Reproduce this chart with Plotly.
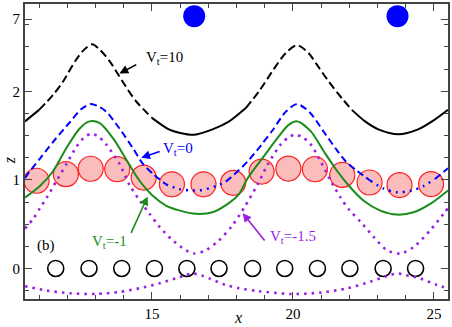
import plotly.graph_objects as go

# ---------------- data ----------------
x_vt10 = [10.5, 11.0, 11.5, 11.85, 12.3, 12.6, 12.88, 13.15, 13.5, 13.96, 14.43, 15.0, 15.6, 16.0, 16.5,
          17.15, 17.74, 18.33, 18.8, 19.26, 19.74, 20.15, 20.56, 20.85, 21.27, 21.74, 22.09, 22.56, 23.03,
          23.74, 24.44, 25.03, 25.5]
z_vt10 = [1.66, 1.79, 1.96, 2.11, 2.35, 2.47, 2.53, 2.47, 2.34, 2.11, 1.89, 1.70, 1.57, 1.53, 1.51,
          1.57, 1.66, 1.81, 2.0, 2.22, 2.43, 2.52, 2.43, 2.30, 2.11, 1.92, 1.79, 1.66, 1.57,
          1.515, 1.57, 1.68, 1.79]

x_vt0 = [10.5, 10.68, 11.03, 11.5, 12.09, 12.5, 12.82, 13.1, 13.38, 13.85, 14.32, 14.68, 15.03, 15.5,
         15.97, 16.68, 17.27, 17.62, 17.92, 18.4, 18.87, 19.28, 19.75, 20.15, 20.6, 21.1, 21.57, 21.87,
         22.28, 22.75, 23.22, 23.69, 24.22, 24.63, 25.04, 25.5]
z_vt0 = [1.02, 1.10, 1.24, 1.43, 1.65, 1.80, 1.855, 1.83, 1.77, 1.58, 1.36, 1.18, 1.07, 0.95,
         0.895, 0.88, 0.93, 0.98, 1.06, 1.21, 1.39, 1.56, 1.77, 1.855, 1.76, 1.54, 1.33, 1.21,
         1.10, 0.99, 0.90, 0.86, 0.88, 0.93, 1.01, 1.13]

x_vtm1 = [10.5, 11.03, 11.5, 11.97, 12.44, 12.79, 13.15, 13.62, 14.09, 14.56, 15.03, 15.5, 15.97, 16.56,
          17.15, 17.74, 18.09, 18.4, 18.98, 19.45, 19.85, 20.15, 20.63, 21.1, 21.57, 22.04, 22.51, 23.1,
          23.69, 24.28, 24.87, 25.5]
z_vtm1 = [0.80, 0.93, 1.10, 1.36, 1.58, 1.66, 1.64, 1.47, 1.23, 0.99, 0.82, 0.71, 0.655, 0.616,
          0.634, 0.74, 0.84, 1.02, 1.27, 1.47, 1.62, 1.66, 1.55, 1.32, 1.10, 0.914, 0.765, 0.653,
          0.608, 0.634, 0.728, 0.88]

x_vtm15_up = [10.5, 10.79, 11.03, 11.27, 11.62, 11.97, 12.32, 12.6, 12.85, 13.1, 13.38, 13.85, 14.21,
              14.56, 14.91, 15.27, 15.73, 16.21, 16.5, 16.91, 17.38, 17.85, 18.28, 18.75, 19.1, 19.57,
              19.85, 20.09, 20.35, 20.63, 20.98, 21.34, 21.69, 22.0, 22.39, 22.87, 23.34, 23.81, 24.28,
              24.87, 25.34, 25.5]
z_vtm15_up = [0.45, 0.56, 0.68, 0.80, 0.99, 1.18, 1.37, 1.48, 1.52, 1.49, 1.40, 1.18, 0.94,
              0.77, 0.62, 0.47, 0.32, 0.205, 0.168, 0.205, 0.317, 0.485, 0.69, 0.95, 1.17, 1.40,
              1.48, 1.51, 1.48, 1.40, 1.21, 0.99, 0.80, 0.66, 0.53, 0.354, 0.205, 0.168, 0.242,
              0.43, 0.616, 0.68]

x_vtm15_lo = [10.5, 11.27, 12.09, 13.03, 13.85, 14.56, 15.27, 15.85, 16.2, 16.45, 16.75, 17.03, 17.62,
              18.09, 18.75, 19.92, 20.98, 21.93, 22.75, 23.2, 23.45, 23.72, 24.0, 24.51, 25.1, 25.5]
z_vtm15_lo = [-0.20, -0.25, -0.28, -0.288, -0.265, -0.224, -0.168, -0.112, -0.075, -0.056, -0.08, -0.112,
              -0.187, -0.224, -0.255, -0.288, -0.273, -0.224, -0.15, -0.10, -0.075, -0.056, -0.075,
              -0.112, -0.187, -0.225]

x_red = [10.91, 11.95, 12.83, 13.77, 14.71, 15.71, 16.83, 17.88, 18.89, 19.84, 20.78, 21.75, 22.72, 23.78, 24.90]
z_red = [0.99, 1.064, 1.125, 1.12, 1.026, 0.95, 0.95, 0.966, 1.093, 1.127, 1.12, 1.056, 0.97, 0.941, 0.952]

x_black = [11.59, 12.77, 13.93, 15.09, 16.24, 17.38, 18.57, 19.71, 20.87, 22.02, 23.2, 24.35]
z_black = [0] * len(x_black)

x_blue = [16.5, 23.71]
z_blue = [2.848, 2.848]

x_ticks = [15, 20, 25]
x_minor = [11, 12, 13, 14, 16, 17, 18, 19, 21, 22, 23, 24]
y_tickvals = [0, 1, 2, 2.814]
y_ticktext = ["0", "1", "2", "7"]
y_minor = [-0.25, 0.25, 0.5, 0.75, 1.25, 1.5, 1.75, 2.25, 2.5, 2.75]

SERIF = "Liberation Serif"
BLUE = "#0000ff"
GREEN = "#1a8c1a"
PURPLE = "#9a1fe0"


def split(xs, zs, thr, above):
    """Return (primary, secondary) z arrays with None gaps.
    primary: points where condition holds plus their neighbours (draws the joins)."""
    n = len(zs)
    m = [(z >= thr) if above else (z <= thr) for z in zs]
    prim = []
    sec = []
    for i in range(n):
        near = m[i] or (i > 0 and m[i - 1]) or (i < n - 1 and m[i + 1])
        prim.append(zs[i] if near else None)
        sec.append(zs[i] if not m[i] else None)
    return prim, sec


fig = go.Figure()

# red hatched circles
fig.add_trace(go.Scatter(x=x_red, y=z_red, mode="markers", hoverinfo="skip",
                         marker=dict(size=25, color="rgb(251,188,188)",
                                     line=dict(color="#ff2020", width=1.2))))
# black open circles
fig.add_trace(go.Scatter(x=x_black, y=z_black, mode="markers", hoverinfo="skip",
                         marker=dict(size=16, color="black", symbol="circle-open",
                                     line=dict(color="black", width=1.6))))
# blue filled circles
fig.add_trace(go.Scatter(x=x_blue, y=z_blue, mode="markers", hoverinfo="skip",
                         marker=dict(size=22, color=BLUE, line=dict(width=0))))

# Vt=10 black: dashed high part, solid low part
dash_part, solid_part = split(x_vt10, z_vt10, 1.85, True)
fig.add_trace(go.Scatter(x=x_vt10, y=solid_part, mode="lines", hoverinfo="skip",
                         line=dict(color="black", width=2, shape="spline", smoothing=0.8)))
fig.add_trace(go.Scatter(x=x_vt10, y=dash_part, mode="lines", hoverinfo="skip",
                         line=dict(color="black", width=2, dash="8px,4px", shape="spline", smoothing=0.8)))

# Vt=0 blue: dashed high part, dotted low part
dash_b, dot_b = split(x_vt0, z_vt0, 1.05, True)
fig.add_trace(go.Scatter(x=x_vt0, y=dot_b, mode="lines", hoverinfo="skip",
                         line=dict(color=BLUE, width=2.5, dash="2px,5px", shape="spline", smoothing=0.8)))
fig.add_trace(go.Scatter(x=x_vt0, y=dash_b, mode="lines", hoverinfo="skip",
                         line=dict(color=BLUE, width=2, dash="7px,4px", shape="spline", smoothing=0.8)))

# Vt=-1 green solid
fig.add_trace(go.Scatter(x=x_vtm1, y=z_vtm1, mode="lines", hoverinfo="skip",
                         line=dict(color=GREEN, width=2, shape="spline", smoothing=0.8)))

# Vt=-1.5 purple dotted (two branches)
for xs, zs in ((x_vtm15_up, z_vtm15_up), (x_vtm15_lo, z_vtm15_lo)):
    fig.add_trace(go.Scatter(x=xs, y=zs, mode="lines", hoverinfo="skip",
                             line=dict(color=PURPLE, width=2.6, dash="2.5px,5px",
                                       shape="spline", smoothing=0.8)))

annots = []


def label(x, y, text, color):
    annots.append(dict(x=x, y=y, xref="x", yref="y", text=text, showarrow=False,
                       font=dict(family=SERIF, size=15, color=color)))


def arrow(xh, yh, xt, yt, color):
    annots.append(dict(x=xh, y=yh, ax=xt, ay=yt, xref="x", yref="y", axref="x", ayref="y",
                       text="", showarrow=True, arrowhead=2, arrowsize=1.1, arrowwidth=1.6,
                       arrowcolor=color, standoff=0, startstandoff=0))


label(15.45, 2.37, "V<sub>t</sub>=10", "black")
arrow(13.85, 2.20, 14.5, 2.31, "black")
label(15.92, 1.35, "V<sub>t</sub>=0", BLUE)
arrow(14.62, 1.25, 15.33, 1.325, BLUE)
label(13.5, 0.30, "V<sub>t</sub>=-1", GREEN)
arrow(14.85, 0.813, 14.24, 0.384, GREEN)
label(20.0, 0.35, "V<sub>t</sub>=-1.5", PURPLE)
arrow(18.22, 0.623, 19.04, 0.298, PURPLE)
label(11.24, 0.262, "(b)", "black")

annots.append(dict(x=0.5035, y=-0.062, xref="paper", yref="paper", text="<i>x</i>", showarrow=False,
                   font=dict(family=SERIF, size=16, color="black"), yanchor="middle"))
annots.append(dict(x=-0.038, y=0.47, xref="paper", yref="paper", text="<i>z</i>", showarrow=False,
                   textangle=-90, font=dict(family=SERIF, size=16, color="black"), xanchor="center"))

axis_common = dict(showline=True, linecolor="#444", linewidth=1.8, mirror="ticks",
                   ticks="inside", ticklen=7, tickwidth=1.4, tickcolor="#444",
                   showgrid=False, zeroline=False,
                   tickfont=dict(family=SERIF, size=15, color="black"))

fig.update_layout(
    width=452, height=327,
    margin=dict(l=25, r=2, t=2, b=28),
    paper_bgcolor="white", plot_bgcolor="white",
    showlegend=False,
    font=dict(family=SERIF),
    annotations=annots,
    xaxis=dict(range=[10.5, 25.5], tickmode="array", tickvals=x_ticks,
               minor=dict(tickmode="array", tickvals=x_minor, ticks="inside", ticklen=4,
                          tickcolor="#444", tickwidth=1.2, showgrid=False),
               **axis_common),
    yaxis=dict(range=[-0.345, 2.985], tickmode="array", tickvals=y_tickvals, ticktext=y_ticktext,
               minor=dict(tickmode="array", tickvals=y_minor, ticks="inside", ticklen=4,
                          tickcolor="#444", tickwidth=1.2, showgrid=False),
               **axis_common),
)

fig.write_html("out.html", config={"displayModeBar": False},
               post_script="document.body.style.margin='0';document.body.style.padding='0';")
